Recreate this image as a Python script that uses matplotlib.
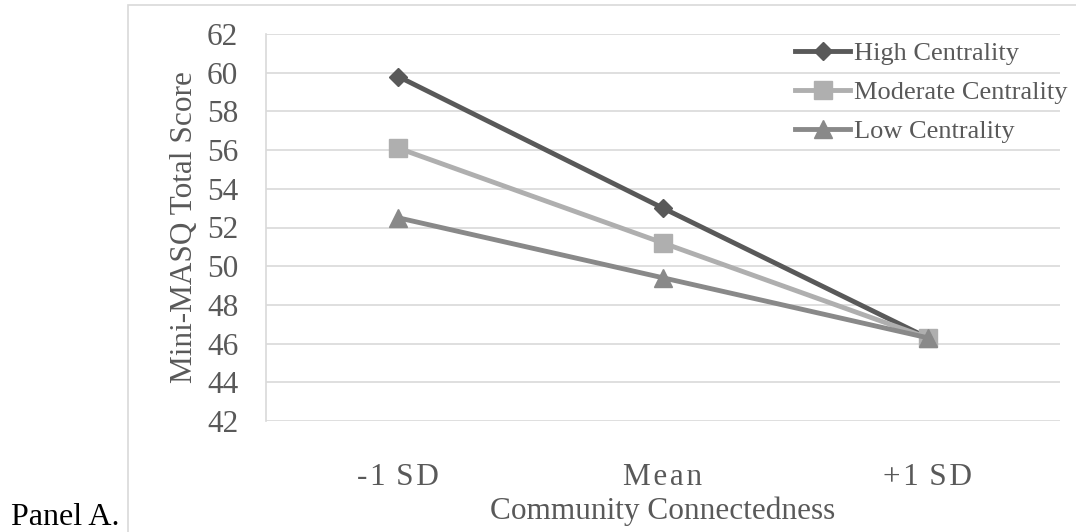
import matplotlib.pyplot as plt
from matplotlib.patches import Rectangle

plt.rcParams['font.family'] = ['Liberation Serif', 'DejaVu Serif']

levels = ['-\u200a1 \u200aS\u200aD', 'M\u200ae\u200aa\u200an', '+\u200a1 \u200aS\u200aD']
high = [59.8, 53.0, 46.3]
moderate = [56.1, 51.2, 46.3]
low = [52.5, 49.4, 46.3]
yticks = list(range(42, 63, 2))

grid_col = '#d9d9d9'
text_col = '#595959'

fig = plt.figure(figsize=(10.76, 5.32), dpi=100)

# chart-area border, runs off the right and bottom edges
fig.patches.append(Rectangle((128 / 1076, -0.1), 1.0, 1.1 - 5 / 532,
                             transform=fig.transFigure, fill=False,
                             edgecolor=grid_col, linewidth=1.2))

ax = fig.add_axes([266 / 1076, 1 - 421 / 532, 794 / 1076, 387 / 532])
x = range(len(levels))

ax.plot(x, high, color='#595959', lw=3.5, marker='D', ms=8.7,
        label='High Centrality', zorder=3)
ax.plot(x, moderate, color='#afafaf', lw=3.5, marker='s', ms=12.5,
        label='Moderate Centrality', zorder=4)
ax.plot(x, low, color='#898989', lw=3.5, marker='^', ms=12.5,
        label='Low Centrality', zorder=5)

ax.set_xlim(-0.5, 2.5)
ax.set_ylim(42, 62)
ax.set_yticks(yticks)
ax.set_xticks(list(x))
ax.set_xticklabels(levels)
ax.yaxis.grid(True, color=grid_col, lw=1.2)
ax.set_axisbelow(True)
for side in ['top', 'right', 'bottom']:
    ax.spines[side].set_visible(False)
ax.spines['left'].set_color(grid_col)
ax.spines['left'].set_linewidth(1.2)
ax.tick_params(axis='both', length=0, labelsize=22.5, labelcolor=text_col)
ax.tick_params(axis='y', pad=20)
ax.tick_params(axis='x', pad=30)

ax.set_ylabel('Mini-MASQ Total Score', fontsize=22.5, color=text_col)
ax.yaxis.set_label_coords(-0.085, 0.5)
ax.set_xlabel('Community Connectedness', fontsize=22.5, color=text_col)
ax.xaxis.set_label_coords(0.5, -0.195)

leg = ax.legend(loc='upper left', bbox_to_anchor=(795 / 1076, 1 - 42 / 532),
                bbox_transform=fig.transFigure, frameon=False, fontsize=19,
                handlelength=2.1, handletextpad=0.15, labelspacing=0.58,
                borderpad=0, borderaxespad=0)
for t in leg.get_texts():
    t.set_color(text_col)

fig.text(11 / 1076, 7 / 532, 'Panel A.', fontsize=23, color='black',
         ha='left', va='baseline')

fig.savefig('out.png', dpi=100)
